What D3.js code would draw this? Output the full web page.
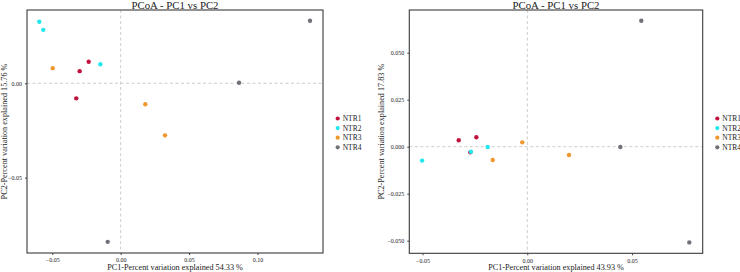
<!DOCTYPE html>
<html>
<head>
<meta charset="utf-8">
<script src="https://cdn.jsdelivr.net/npm/d3@7"></script>
<style>
  body { margin: 0; background: #fff; }
  text { font-family: "Liberation Serif", "Times New Roman", serif; fill: #222; }
</style>
</head>
<body>
<div id="chart"></div>
<script>
const groups = ["NTR1", "NTR2", "NTR3", "NTR4"];
const colors = ["#C2133F", "#22E8EE", "#F0972E", "#6F7279"];

// left panel: PC1 54.33 %, PC2 15.76 %
const leftPoints = [
  { g: "NTR1", x: -0.0234, y: 0.0114 },
  { g: "NTR1", x: -0.0300, y: 0.0064 },
  { g: "NTR1", x: -0.0325, y: -0.0080 },
  { g: "NTR2", x: -0.0595, y: 0.0326 },
  { g: "NTR2", x: -0.0566, y: 0.0283 },
  { g: "NTR2", x: -0.0149, y: 0.0101 },
  { g: "NTR3", x: -0.0497, y: 0.0080 },
  { g: "NTR3", x: 0.0180, y: -0.0111 },
  { g: "NTR3", x: 0.0324, y: -0.0276 },
  { g: "NTR4", x: 0.1384, y: 0.0331 },
  { g: "NTR4", x: 0.0865, y: 0.0003 },
  { g: "NTR4", x: -0.0095, y: -0.0840 }
];

// right panel: PC1 43.93 %, PC2 17.83 %
const rightPoints = [
  { g: "NTR1", x: -0.0327, y: 0.0034 },
  { g: "NTR1", x: -0.0243, y: 0.0050 },
  { g: "NTR1", x: -0.0272, y: -0.0030 },
  { g: "NTR2", x: -0.0502, y: -0.0074 },
  { g: "NTR2", x: -0.0269, y: -0.0027 },
  { g: "NTR2", x: -0.0189, y: -0.0002 },
  { g: "NTR3", x: -0.0024, y: 0.0023 },
  { g: "NTR3", x: -0.0165, y: -0.0071 },
  { g: "NTR3", x: 0.0199, y: -0.0044 },
  { g: "NTR4", x: 0.0544, y: 0.0670 },
  { g: "NTR4", x: 0.0444, y: -0.0002 },
  { g: "NTR4", x: 0.0773, y: -0.0509 }
];

const leftXTicks = [-0.05, 0, 0.05, 0.1];
const leftYTicks = [-0.05, 0];
const rightXTicks = [-0.05, 0, 0.05];
const rightYTicks = [-0.05, -0.025, 0, 0.025, 0.05];

const svg = d3.select("#chart").append("svg")
  .attr("width", 740)
  .attr("height", 272);

const color = d3.scaleOrdinal().domain(groups).range(colors);

function drawPanel(opt) {
  const x = d3.scaleLinear().domain(opt.xDomain).range([opt.left, opt.right]);
  const y = d3.scaleLinear().domain(opt.yDomain).range([opt.bottom, opt.top]);
  const g = svg.append("g");

  // zero lines
  g.append("line")
    .attr("x1", x(0)).attr("x2", x(0))
    .attr("y1", opt.top).attr("y2", opt.bottom)
    .attr("stroke", "#cccccc").attr("stroke-dasharray", "3,2.5");
  g.append("line")
    .attr("x1", opt.left).attr("x2", opt.right)
    .attr("y1", y(0)).attr("y2", y(0))
    .attr("stroke", "#cccccc").attr("stroke-dasharray", "3,2.5");

  const xAxis = g.append("g")
    .attr("transform", `translate(0,${opt.bottom})`)
    .call(d3.axisBottom(x).tickValues(opt.xTicks).tickSize(2).tickPadding(3)
      .tickFormat(d3.format(opt.xFmt)));
  const yAxis = g.append("g")
    .attr("transform", `translate(${opt.left},0)`)
    .call(d3.axisLeft(y).tickValues(opt.yTicks).tickSize(2).tickPadding(3)
      .tickFormat(d3.format(opt.yFmt)));
  [xAxis, yAxis].forEach((a) => {
    a.select(".domain").remove();
    a.selectAll("line").attr("stroke", "#444");
    a.selectAll("text").attr("font-size", "6px")
      .attr("font-family", "Liberation Serif").attr("fill", "#222");
  });

  g.append("rect")
    .attr("x", opt.left).attr("y", opt.top)
    .attr("width", opt.right - opt.left).attr("height", opt.bottom - opt.top)
    .attr("fill", "none").attr("stroke", "#3a3a3a").attr("stroke-width", 1.1);

  g.selectAll("circle.pt")
    .data(opt.points)
    .join("circle")
    .attr("class", "pt")
    .attr("cx", (d) => x(d.x))
    .attr("cy", (d) => y(d.y))
    .attr("r", 2.2)
    .attr("fill", (d) => color(d.g));

  g.append("text")
    .attr("x", (opt.left + opt.right) / 2).attr("y", 8.8)
    .attr("text-anchor", "middle").attr("font-size", "10.8px")
    .text("PCoA - PC1 vs PC2");

  g.append("text")
    .attr("x", (opt.left + opt.right) / 2).attr("y", 269.5)
    .attr("text-anchor", "middle").attr("font-size", "8.2px")
    .text(opt.xLabel);

  g.append("text")
    .attr("transform", `translate(${opt.yLabelX},${(opt.top + opt.bottom) / 2}) rotate(-90)`)
    .attr("text-anchor", "middle").attr("font-size", "8.2px")
    .text(opt.yLabel);

  const legend = g.append("g")
    .attr("transform", `translate(${opt.legendX},118.5)`);
  legend.selectAll("g")
    .data(groups)
    .enter()
    .append("g")
    .attr("transform", (d, i) => `translate(0,${i * 9.6})`)
    .each(function (d) {
      d3.select(this).append("circle")
        .attr("r", 2.1).attr("fill", color(d));
      d3.select(this).append("text")
        .attr("x", 5).attr("dy", "0.33em")
        .attr("font-size", "7.5px")
        .text(d);
    });
}

drawPanel({
  left: 27, right: 323, top: 10, bottom: 253,
  xDomain: [-0.0685, 0.1479], yDomain: [-0.0899, 0.0388],
  xTicks: leftXTicks, yTicks: leftYTicks, xFmt: ".2f", yFmt: ".2f",
  points: leftPoints,
  xLabel: "PC1-Percent variation explained 54.33 %",
  yLabel: "PC2-Percent variation explained 15.76 %",
  yLabelX: 7, legendX: 337.7
});

drawPanel({
  left: 409.3, right: 702.7, top: 10, bottom: 253.3,
  xDomain: [-0.0563, 0.0837], yDomain: [-0.0567, 0.0727],
  xTicks: rightXTicks, yTicks: rightYTicks, xFmt: ".2f", yFmt: ".3f",
  points: rightPoints,
  xLabel: "PC1-Percent variation explained 43.93 %",
  yLabel: "PC2-Percent variation explained 17.83 %",
  yLabelX: 384, legendX: 717.3
});
</script>
</body>
</html>
